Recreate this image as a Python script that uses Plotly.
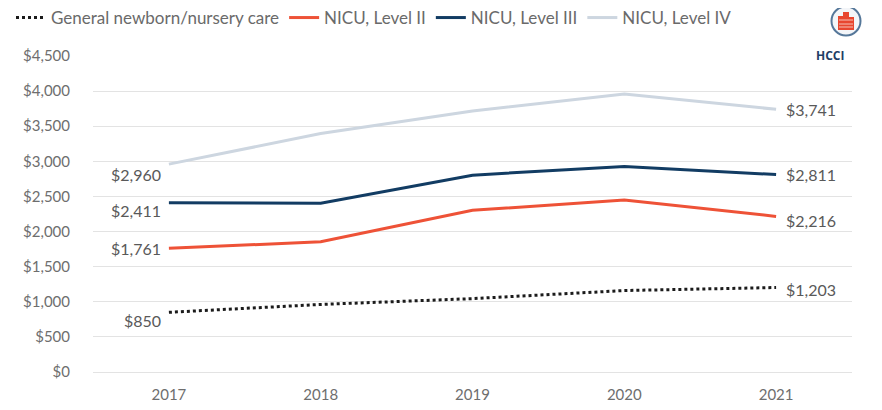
import base64
import plotly.graph_objects as go

# data
years = ["2017", "2018", "2019", "2020", "2021"]
general_care = [850, 962, 1045, 1160, 1203]
nicu_level_2 = [1761, 1855, 2302, 2450, 2216]
nicu_level_3 = [2411, 2403, 2803, 2928, 2811]
nicu_level_4 = [2960, 3395, 3718, 3960, 3741]
y_ticks = [0, 500, 1000, 1500, 2000, 2500, 3000, 3500, 4000, 4500]

W, H = 882, 410
# the page body adds an 8px offset, so margins are shifted by that much
ML, MR, MT, MB = 85, 38, 48, 46

series = [
    ("General newborn/nursery care", general_care, "#1b1b1b", "dot"),
    ("NICU, Level II", nicu_level_2, "#ee5237", "solid"),
    ("NICU, Level III", nicu_level_3, "#123c63", "solid"),
    ("NICU, Level IV", nicu_level_4, "#cdd6e0", "solid"),
]

fig = go.Figure()
for name, vals, color, dash in series:
    fig.add_trace(go.Scatter(x=years, y=vals, name=name, mode="lines",
                             line=dict(color=color, width=3, dash=dash)))

# end labels: first point sits left (a bit below), last point right
first_shift = {"General newborn/nursery care": -8, "NICU, Level II": 0,
               "NICU, Level III": -8, "NICU, Level IV": -10}
last_shift = {"General newborn/nursery care": -2, "NICU, Level II": -4,
              "NICU, Level III": 0, "NICU, Level IV": 0}
label_font = dict(family="Lato, 'Open Sans', sans-serif", size=16, color="#595959")
last = len(years) - 1
for name, vals, color, dash in series:
    # category axis: annotations placed by category index
    fig.add_annotation(x=0, y=vals[0], text=f"${vals[0]:,}", showarrow=False,
                       xanchor="right", yanchor="middle", xshift=-6,
                       yshift=first_shift[name], font=label_font)
    fig.add_annotation(x=last, y=vals[-1], text=f"${vals[-1]:,}", showarrow=False,
                       xanchor="left", yanchor="middle", xshift=8,
                       yshift=last_shift[name], font=label_font)

# HCCI logo, top right (approximation) as an inline svg image
def px(x):
    return (x - ML) / (W - ML - MR)

def py(y):
    return 1 - (y - MT) / (H - MT - MB)

logo_svg = """<svg xmlns="http://www.w3.org/2000/svg" width="32" height="32" viewBox="0 0 32 32">
<circle cx="16" cy="16" r="14.5" fill="#f3f5f8" stroke="#557799" stroke-width="2"/>
<rect x="8" y="11" width="5" height="14" fill="#e8462f"/>
<rect x="13" y="7" width="6" height="18" fill="#e8462f"/>
<rect x="19" y="12" width="5" height="13" fill="#e8462f"/>
<path d="M9 15 H23 M9 19 H23 M9 22 H23" stroke="#f6c0b5" stroke-width="1"/>
</svg>"""
logo_src = "data:image/svg+xml;base64," + base64.b64encode(logo_svg.encode()).decode()

cx, cy, size = 838, 13, 32
fig.add_layout_image(source=logo_src, xref="paper", yref="paper",
                     x=px(cx - size / 2), y=py(cy - size / 2),
                     sizex=size / (W - ML - MR), sizey=size / (H - MT - MB),
                     xanchor="left", yanchor="top", sizing="stretch", layer="above")
fig.add_annotation(xref="paper", yref="paper", x=px(cx), y=py(37), text="<b>HCCI</b>",
                   showarrow=False,
                   font=dict(family="'Open Sans', sans-serif", size=12, color="#1f3e66"))

fig.update_layout(
    width=W, height=H,
    margin=dict(l=ML, r=MR, t=MT, b=MB, autoexpand=False),
    plot_bgcolor="white", paper_bgcolor="white",
    font=dict(family="Lato, 'Open Sans', sans-serif", color="#6e6e6e", size=15),
    legend=dict(orientation="h", xref="container", yref="container",
                x=3 / W, xanchor="left", y=1 - 10 / H, yanchor="middle",
                font=dict(size=17, color="#6a6a6a"), itemwidth=30,
                bgcolor="rgba(0,0,0,0)"),
    xaxis=dict(type="category", range=[-0.5, len(years) - 0.5],
               showgrid=False, showline=False, ticks="", ticklabelstandoff=12),
    yaxis=dict(range=[0, 4500], tickvals=y_ticks,
               ticktext=[f"${v:,}" for v in y_ticks],
               showgrid=True, gridcolor="#e3e3e3", gridwidth=1,
               zeroline=True, zerolinecolor="#e3e3e3", zerolinewidth=1,
               showline=False, ticks="", ticklabelstandoff=22),
)

fig.write_html("out.html")
